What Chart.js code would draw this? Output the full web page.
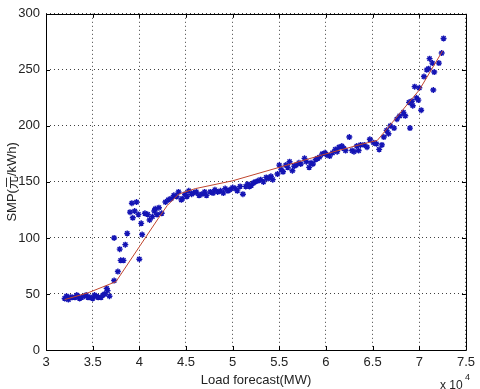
<!DOCTYPE html>
<html>
<head>
<meta charset="utf-8">
<script src="https://cdn.jsdelivr.net/npm/chart.js@4.4.1/dist/chart.umd.min.js"></script>
<style>
html,body{margin:0;padding:0;background:#fff;}
canvas{display:block;}
</style>
</head>
<body>
<canvas id="c" width="480" height="389"></canvas>
<script>
// Observed points: load forecast (x 10^4 MW) and SMP
const loadX = [3.20,3.22,3.24,3.26,3.28,3.31,3.33,3.34,3.36,3.38,3.41,3.43,3.45,3.47,3.50,3.52,3.54,3.56,3.59,3.61,3.63,3.65,3.66,3.68,
3.73,3.73,3.77,3.79,3.80,3.83,3.85,3.87,3.90,3.92,3.93,3.95,3.97,3.99,4.00,4.02,4.03,4.06,4.09,4.11,4.14,4.16,4.17,4.19,4.21,4.24,
4.28,4.31,4.34,4.37,4.40,4.42,4.45,4.46,4.49,4.51,4.53,4.56,4.58,4.61,4.64,4.67,4.70,4.72,4.76,4.79,4.81,4.84,4.87,4.90,4.92,4.95,
4.97,5.00,5.03,5.05,5.08,5.11,5.14,5.16,5.18,5.20,5.22,5.24,5.27,5.30,5.33,5.36,5.38,5.41,5.43,5.48,5.50,5.52,5.54,5.57,5.59,5.61,
5.64,5.66,5.68,5.71,5.73,5.77,5.79,5.82,5.84,5.86,5.89,5.91,5.93,5.96,5.99,6.01,6.04,6.07,6.10,6.12,6.14,6.17,6.19,6.21,6.25,6.28,
6.30,6.33,6.35,6.37,6.41,6.44,6.47,6.51,6.54,6.57,6.60,6.62,6.65,6.67,6.69,6.73,6.76,6.79,6.83,6.85,6.89,6.90,6.92,6.93,6.95,6.97,
6.99,7.00,7.02,7.05,7.08,7.10,7.11,7.14,7.15,7.16,7.21,7.24,7.26];
const smpY = [46,48,45,47,47,47,49,48,46,47,48,49,47,47,46,49,48,47,47,49,50,55,53,48,
62,100,70,90,80,80,94,104,123,131,118,124,132,121,81,113,103,122,121,116,119,124,126,121,127,122,
132,134,135,138,137,141,134,135,139,137,142,139,140,141,138,139,141,138,141,140,143,141,142,140,144,142,
143,145,144,142,146,139,146,148,146,147,149,150,151,152,150,154,153,155,152,157,165,161,159,165,163,168,
160,164,165,167,166,171,168,163,167,166,170,171,172,175,176,174,173,176,179,177,181,182,180,178,190,178,
177,182,178,183,183,181,188,185,184,179,183,190,196,193,200,198,206,209,212,209,221,198,222,218,235,225,
223,234,214,244,250,251,260,256,232,248,256,265,278];
// Fitted curve
const fitX = [3.20,3.45,3.75,4.20,4.30,4.42,4.60,5.00,5.50,6.00,6.40,6.55,6.65,7.00,7.25];
const fitY = [45,51,61,117,129,139,144,151,163,175,184,187,197,232,267];
// Tick labels
const xTicks = [3,3.5,4,4.5,5,5.5,6,6.5,7,7.5];
const yTicks = [0,50,100,150,200,250,300];

const FONT = '"Liberation Sans", Arial, sans-serif';

const scatterData = loadX.map((x,i)=>({x:x,y:smpY[i]}));
const fitData = fitX.map((x,i)=>({x:x,y:fitY[i]}));

const framePlugin = {
  id:'frame',
  afterDraw(chart){
    const ctx = chart.ctx, a = chart.chartArea;
    const xs = chart.scales.x, ys = chart.scales.y;
    ctx.save();
    ctx.strokeStyle = '#000';
    ctx.lineWidth = 1;
    ctx.beginPath();
    ctx.rect(Math.round(a.left)+0.5, Math.round(a.top)+0.5, Math.round(a.right-a.left), Math.round(a.bottom-a.top));
    ctx.stroke();
    // inner tick marks
    ctx.beginPath();
    xTicks.forEach(v=>{
      const px = Math.round(xs.getPixelForValue(v))+0.5;
      ctx.moveTo(px,a.bottom); ctx.lineTo(px,a.bottom-4);
      ctx.moveTo(px,a.top); ctx.lineTo(px,a.top+4);
    });
    yTicks.forEach(v=>{
      const py = Math.round(ys.getPixelForValue(v))+0.5;
      ctx.moveTo(a.left,py); ctx.lineTo(a.left+4,py);
      ctx.moveTo(a.right,py); ctx.lineTo(a.right-4,py);
    });
    ctx.stroke();
    // titles
    ctx.fillStyle = '#222';
    ctx.font = '13px ' + FONT;
    ctx.textAlign = 'center';
    ctx.textBaseline = 'middle';
    ctx.fillText('Load forecast(MW)', (a.left+a.right)/2, 380);
    ctx.save();
    ctx.translate(12, (a.top+a.bottom)/2);
    ctx.rotate(-Math.PI/2);
    ctx.font = '13px "Liberation Sans", "Noto Sans CJK SC", sans-serif';
    ctx.fillText('SMP(元/kWh)', 0, 0);
    ctx.restore();
    ctx.textAlign = 'left';
    ctx.font = '12px ' + FONT;
    ctx.fillText('x 10', 440, 386);
    ctx.font = '9px ' + FONT;
    ctx.fillText('4', 465, 378);
    ctx.restore();
  }
};

new Chart(document.getElementById('c'), {
  type:'scatter',
  data:{
    datasets:[
      {
        type:'line',
        label:'fit',
        data:fitData,
        borderColor:'#c0462e',
        borderWidth:1,
        pointRadius:0,
        tension:0,
        fill:false,
        order:1
      },
      {
        label:'SMP',
        data:scatterData,
        pointStyle:'star',
        pointRadius:3,
        borderColor:'#1414b4',
        backgroundColor:'#1414b4',
        pointBorderWidth:1.4,
        order:2
      }
    ]
  },
  options:{
    responsive:false,
    devicePixelRatio:1,
    animation:false,
    layout:{padding:{top:10,right:10,left:0,bottom:0}},
    plugins:{legend:{display:false},tooltip:{enabled:false}},
    scales:{
      x:{
        type:'linear',min:3,max:7.5,
        afterBuildTicks(s){ s.ticks = xTicks.map(v=>({value:v})); },
        afterFit(s){ s.height = 39; },
        ticks:{font:{family:FONT,size:13},color:'#222',padding:5,maxRotation:0,autoSkip:false,
          callback:(v)=>String(v)},
        grid:{color:'rgba(0,0,0,0.75)',lineWidth:1,drawTicks:false},
        border:{display:false,dash:[1,3]}
      },
      y:{
        type:'linear',min:0,max:300,
        afterBuildTicks(s){ s.ticks = yTicks.map(v=>({value:v})); },
        afterFit(s){ s.width = 46; },
        ticks:{font:{family:FONT,size:13},color:'#222',padding:6,autoSkip:false,
          callback:(v)=>String(v)},
        grid:{color:'rgba(0,0,0,0.75)',lineWidth:1,drawTicks:false},
        border:{display:false,dash:[1,3]}
      }
    }
  },
  plugins:[framePlugin]
});
</script>
</body>
</html>
